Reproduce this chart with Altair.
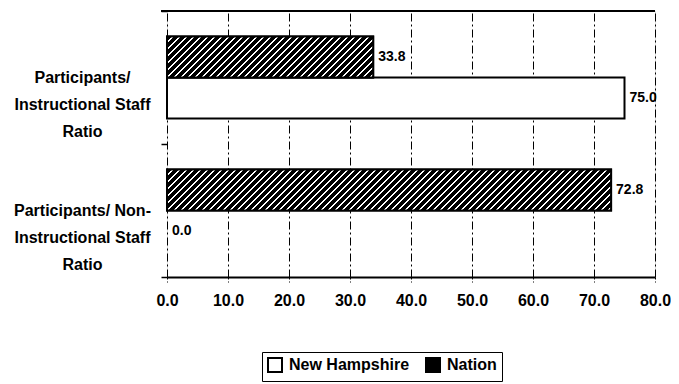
import math
import altair as alt
import pandas as pd

categories = ["Participants/|Instructional Staff|Ratio",
              "Participants/ Non-|Instructional Staff|Ratio"]
series = ["New Hampshire", "Nation"]
nh_values = [75.0, 0.0]
nation_values = [33.8, 72.8]
x_ticks = [0, 10, 20, 30, 40, 50, 60, 70, 80]

rows = []
for c, nh, na in zip(categories, nh_values, nation_values):
    rows.append({"category": c, "series": "New Hampshire", "value": nh})
    rows.append({"category": c, "series": "Nation", "value": na})
df = pd.DataFrame(rows)

FONT = "Liberation Sans, Arial, sans-serif"
W, H = 488, 266
XMAX = 80.0
BAR_H = 41.0
SEG = 10.0          # hatch drawn in pieces of this many x-units
PERIOD = 7.0        # hatch period in px (horizontal)
INK = 0.68


def seg_gradient(x0_px, wc, h=BAR_H, P=PERIOD, ink=INK):
    L = wc + h
    edges = []
    k = math.floor(x0_px / P) - 1
    while k * P - x0_px <= L + P:
        for e in (k * P - x0_px, k * P + ink * P - x0_px):
            if 0 < e < L:
                edges.append(e)
        k += 1
    edges.sort()
    cur = "black" if (x0_px % P) < ink * P else "white"
    stops = [{"offset": 0, "color": cur}]
    for e in edges:
        stops.append({"offset": e / L, "color": cur})
        cur = "white" if cur == "black" else "black"
        stops.append({"offset": e / L, "color": cur})
    stops.append({"offset": 1, "color": cur})
    d = wc * wc + h * h
    return {"gradient": "linear", "x1": 0, "y1": 0,
            "x2": L * wc / d, "y2": L * h / d, "stops": stops}


# hatch pieces derived from the Nation values
seg_rows = []
for c, v in zip(categories, nation_values):
    s = 0.0
    while s < v:
        e = min(s + SEG + 0.5, v)
        seg_rows.append({"category": c, "series": "Nation", "start": s, "end": e})
        s += SEG
seg_df = pd.DataFrame(seg_rows)

x_axis = alt.Axis(values=x_ticks, format=".1f", title=None,
                  grid=True, gridColor="black", gridDash=[8, 3, 2, 3],
                  gridWidth=1, domainColor="black", domainWidth=2,
                  tickColor="black", tickSize=5, tickDash=[2, 2],
                  labelFont=FONT, labelFontSize=16, labelFontWeight="bold",
                  labelColor="black", labelPadding=10, labelFlush=False)
x_scale = alt.Scale(domain=[0, XMAX], nice=False)
y_enc = alt.Y("category:N",
              scale=alt.Scale(domain=categories, paddingInner=0, paddingOuter=0),
              axis=alt.Axis(title=None, domain=False, tickBand="extent",
                            tickColor="black", tickSize=6, tickWidth=1.5,
                            labelExpr="split(datum.label, '|')",
                            labelAlign="center", labelBaseline="middle",
                            labelPadding=79, labelLineHeight=27,
                            labelFont=FONT, labelFontSize=16, labelFontWeight="bold",
                            labelColor="black", grid=False))
yoff_enc = alt.YOffset("series:N",
                       scale=alt.Scale(domain=["Nation", "New Hampshire"],
                                       paddingInner=0, paddingOuter=0.62))

bars = alt.Chart(df).mark_bar(stroke="black", strokeWidth=2).encode(
    y=y_enc, yOffset=yoff_enc,
    x=alt.X("value:Q", scale=x_scale, axis=x_axis),
    fill=alt.Fill("series:N",
                  scale=alt.Scale(domain=series, range=["white", "black"]),
                  legend=alt.Legend(title=None, orient="none", legendX=95, legendY=341,
                                    direction="horizontal", strokeColor="black",
                                    padding=5, symbolType="square", symbolSize=196,
                                    symbolStrokeColor="black", symbolStrokeWidth=2,
                                    labelFont=FONT, labelFontSize=16,
                                    labelFontWeight="bold", labelColor="black",
                                    columnPadding=12, labelOffset=6)),
    strokeOpacity=alt.condition("datum.value > 0", alt.value(1), alt.value(0)),
)

hatch_layers = []
for i, r in seg_df.iterrows():
    x0_px = r["start"] / XMAX * W
    wc = (r["end"] - r["start"]) / XMAX * W
    grad = seg_gradient(x0_px, wc)
    hatch_layers.append(
        alt.Chart(seg_df).transform_filter(f"datum.category == '{r['category']}' && datum.start == {r['start']}")
        .mark_bar(strokeWidth=0).encode(
            y=alt.Y("category:N"), yOffset=alt.YOffset("series:N"),
            x=alt.X("start:Q"), x2="end:Q",
            fill=alt.value(grad))
    )

outline = alt.Chart(df).transform_filter("datum.series == 'Nation'").mark_bar(
    stroke="black", strokeWidth=2, fillOpacity=0, fill="white").encode(
    y=alt.Y("category:N"), yOffset=alt.YOffset("series:N"), x=alt.X("value:Q"))

labels = alt.Chart(df).mark_text(align="left", baseline="middle", dx=5, font=FONT,
                                 fontSize=14, fontWeight="bold", color="black").encode(
    y=alt.Y("category:N"), yOffset=alt.YOffset("series:N"),
    x=alt.X("value:Q"),
    text=alt.Text("value:Q", format=".1f"),
)

top_rule = alt.Chart(pd.DataFrame({"k": [0]})).mark_rule(color="black", strokeWidth=2).encode(
    y=alt.value(0), x=alt.value(-6), x2=alt.value(W))

chart = alt.layer(bars, *hatch_layers, outline, labels, top_rule).properties(
    width=W, height=H,
    autosize="none",
    padding={"left": 159, "top": 3, "right": 16, "bottom": 110},
).configure_view(stroke=None).configure(font=FONT, background="white")

chart.save("out.html", embed_options={"renderer": "svg", "actions": False})
